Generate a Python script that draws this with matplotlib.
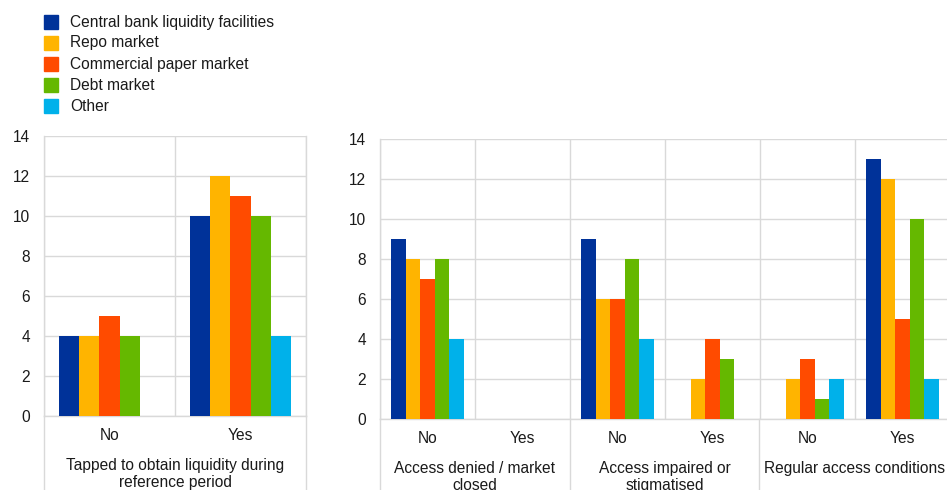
import matplotlib
matplotlib.use("Agg")
import matplotlib.pyplot as plt
import numpy as np
from matplotlib.patches import Rectangle
from matplotlib.lines import Line2D

plt.rcParams['font.family'] = ['Liberation Sans', 'DejaVu Sans']

series = ["Central bank liquidity facilities", "Repo market", "Commercial paper market",
          "Debt market", "Other"]
colors = ["#003299", "#FFB400", "#FF4B00", "#65B800", "#00B1EA"]

left_cats = ["No", "Yes"]
left_group = "Tapped to obtain liquidity during\nreference period"
left_values = [  # rows: categories, cols: series
    [4, 4, 5, 4, 0],
    [10, 12, 11, 10, 4],
]

right_cats = ["No", "Yes", "No", "Yes", "No", "Yes"]
right_groups = ["Access denied / market\nclosed", "Access impaired or\nstigmatised",
                "Regular access conditions"]
right_values = [
    [9, 8, 7, 8, 4],
    [0, 0, 0, 0, 0],
    [9, 6, 6, 8, 4],
    [0, 2, 4, 3, 0],
    [0, 2, 3, 1, 2],
    [13, 12, 5, 10, 2],
]
yticks = [0, 2, 4, 6, 8, 10, 12, 14]

W, H = 947, 490
fig = plt.figure(figsize=(W / 100, H / 100), dpi=100)
fs = 11.2
txt = "#1a1a1a"
grid_c = "#d9d9d9"


def px_axes(x0, y_top, x1, y_bot):
    return fig.add_axes([x0 / W, 1 - y_bot / H, (x1 - x0) / W, (y_bot - y_top) / H])


def draw(ax, cats, values):
    values = np.array(values, dtype=float)
    n = len(cats)
    ns = values.shape[1]
    gw = 0.77
    bw = gw / ns
    x = np.arange(n)
    for j in range(ns):
        ax.bar(x - gw / 2 + bw * (j + 0.5), values[:, j], width=bw, color=colors[j],
               edgecolor='none', zorder=3)
    ax.set_xlim(-0.5, n - 0.5)
    ax.set_ylim(0, 14)
    ax.set_yticks(yticks)
    ax.set_xticks(x)
    ax.set_xticklabels(cats)
    ax.set_xticks(np.arange(n + 1) - 0.5, minor=True)
    ax.grid(axis='y', color=grid_c, linewidth=1, zorder=0)
    ax.grid(axis='x', which='minor', color=grid_c, linewidth=1, zorder=0)
    ax.tick_params(axis='both', which='both', length=0, labelsize=fs, colors=txt)
    ax.tick_params(axis='y', pad=10)
    ax.tick_params(axis='x', pad=8.5)
    for s in ax.spines.values():
        s.set_color(grid_c)
        s.set_linewidth(1)
    ax.spines['top'].set_visible(False)


ax1 = px_axes(44, 135.7, 306, 416)
draw(ax1, left_cats, left_values)
ax2 = px_axes(380, 139.3, 950, 419.3)
draw(ax2, right_cats, right_values)

# separators below axes and group labels
for xs, ytop in [((44, 306), 416), ((380, 569.6, 759.3, 950), 419.3)]:
    for xv in xs:
        fig.add_artist(Line2D([xv / W, xv / W], [1 - ytop / H, 0], color=grid_c, lw=1,
                              transform=fig.transFigure))

fig.text(175 / W, 1 - 457.5 / H, left_group, ha='center', va='top', fontsize=fs, color=txt,
         linespacing=1.2)
gx = [474.8, 664.5, 854.5]
for g, xg in zip(right_groups, gx):
    fig.text(xg / W, 1 - 461 / H, g, ha='center', va='top', fontsize=fs, color=txt,
             linespacing=1.2)

# legend
for i, (s, c) in enumerate(zip(series, colors)):
    yc = 22 + 21 * i
    fig.add_artist(Rectangle((44 / W, 1 - (yc + 7) / H), 14 / W, 14 / H, color=c,
                             transform=fig.transFigure))
    fig.text(70 / W, 1 - yc / H, s, ha='left', va='center', fontsize=fs, color=txt)

fig.savefig("out.png", dpi=100)
